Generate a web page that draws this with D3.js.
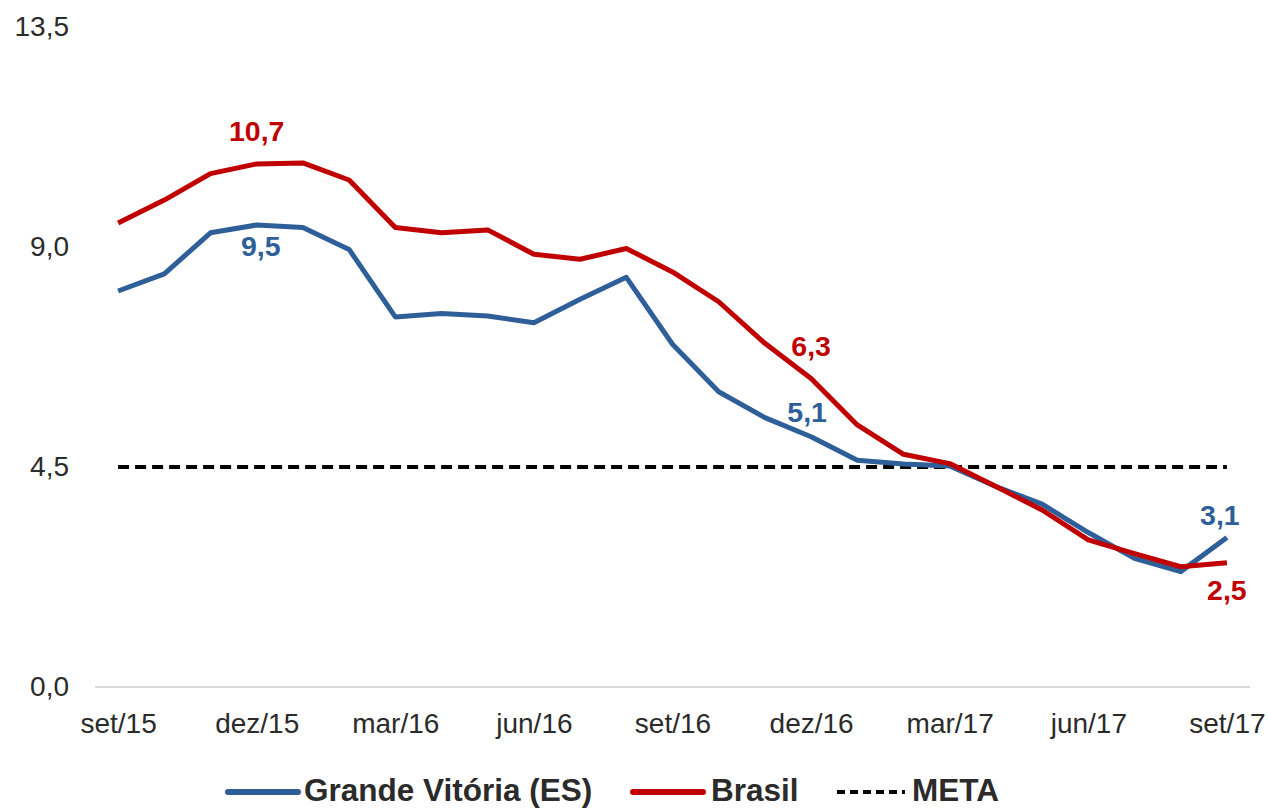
<!DOCTYPE html>
<html>
<head>
<meta charset="utf-8">
<script src="https://cdn.jsdelivr.net/npm/d3@7"></script>
<style>
  body { margin: 0; background: #fff; }
  svg { display: block; font-family: "Liberation Sans", Arial, sans-serif; }
</style>
</head>
<body>
<div id="chart"></div>
<script>
const months = ['set/15','out/15','nov/15','dez/15','jan/16','fev/16','mar/16','abr/16','mai/16','jun/16','jul/16','ago/16',
  'set/16','out/16','nov/16','dez/16','jan/17','fev/17','mar/17','abr/17','mai/17','jun/17','jul/17','ago/17','set/17'];
const tickMonths = ['set/15','dez/15','mar/16','jun/16','set/16','dez/16','mar/17','jun/17','set/17'];
const vitoria = [8.10, 8.45, 9.29, 9.45, 9.40, 8.95, 7.57, 7.64, 7.59, 7.45, 7.93, 8.38,
  7.01, 6.04, 5.51, 5.12, 4.64, 4.56, 4.52, 4.10, 3.74, 3.16, 2.63, 2.36, 3.06];
const brasil = [9.49, 9.96, 10.50, 10.70, 10.72, 10.37, 9.40, 9.29, 9.35, 8.85, 8.75, 8.97,
  8.49, 7.88, 7.03, 6.31, 5.36, 4.76, 4.57, 4.10, 3.62, 3.01, 2.73, 2.46, 2.54];
const meta = 4.5;
const yTicks = [0, 4.5, 9, 13.5];
// data labels: [series, month index, text]
const labels = [
  ['brasil', 3, '10,7'], ['vitoria', 3, '9,5'],
  ['brasil', 15, '6,3'], ['vitoria', 15, '5,1'],
  ['vitoria', 24, '3,1'], ['brasil', 24, '2,5']
];

const W = 1268, H = 808;
const blue = '#2f5f98', red = '#c00000', ink = '#2b2b2b';
const margin = { l: 95, r: 18, t: 27, b: 121 };

const svg = d3.select('#chart').append('svg')
  .attr('width', W)
  .attr('height', H);

const x = d3.scalePoint().domain(months).range([margin.l, W - margin.r]).padding(0.5);
const y = d3.scaleLinear().domain([0, 13.5]).range([H - margin.b, margin.t]);
const fmt = v => d3.format('.1f')(v).replace('.', ',');

// x axis
const axisX = svg.append('g')
  .attr('transform', `translate(0, ${y(0)})`)
  .call(d3.axisBottom(x).tickValues(tickMonths).tickSize(0).tickPadding(26));
axisX.select('.domain').attr('stroke', '#d9d9d9').attr('stroke-width', 2)
  .attr('d', `M${margin.l},0H${W - margin.r}`);
axisX.selectAll('text')
  .style('font-size', '28px')
  .style('font-family', '"Liberation Sans", Arial, sans-serif')
  .attr('fill', ink);

// y axis
const axisY = svg.append('g')
  .attr('transform', `translate(${margin.l}, 0)`)
  .call(d3.axisLeft(y).tickValues(yTicks).tickFormat(fmt).tickSize(0).tickPadding(26));
axisY.select('.domain').remove();
axisY.selectAll('text')
  .style('font-size', '28px')
  .style('font-family', '"Liberation Sans", Arial, sans-serif')
  .attr('fill', ink);

// meta line
svg.append('line')
  .attr('x1', x(months[0]))
  .attr('x2', x(months[months.length - 1]))
  .attr('y1', y(meta))
  .attr('y2', y(meta))
  .attr('stroke', '#000')
  .attr('stroke-width', 4)
  .attr('stroke-dasharray', '11,6');

const line = d3.line()
  .x((d, i) => x(months[i]))
  .y(d => y(d));

svg.append('path')
  .datum(vitoria)
  .attr('fill', 'none')
  .attr('stroke', blue)
  .attr('stroke-width', 5)
  .attr('stroke-linejoin', 'round')
  .attr('d', line);

svg.append('path')
  .datum(brasil)
  .attr('fill', 'none')
  .attr('stroke', red)
  .attr('stroke-width', 5)
  .attr('stroke-linejoin', 'round')
  .attr('d', line);

// data labels
const offsets = {
  '10,7': [0, -23], '9,5': [4, 31], '6,3': [0, -23],
  '5,1': [-4, -15], '3,1': [-7, -12], '2,5': [0, 37]
};
labels.forEach(([s, i, t]) => {
  const v = s === 'brasil' ? brasil[i] : vitoria[i];
  svg.append('text')
    .attr('x', x(months[i]) + offsets[t][0])
    .attr('y', y(v) + offsets[t][1])
    .attr('text-anchor', 'middle')
    .style('font-size', '28.5px')
    .style('font-weight', 'bold')
    .attr('fill', s === 'brasil' ? red : blue)
    .text(t);
});

// legend
const legend = [
  { name: 'Grande Vitória (ES)', color: blue, x: 228, tx: 304, dash: null },
  { name: 'Brasil', color: red, x: 633, tx: 711, dash: null },
  { name: 'META', color: '#000', x: 837, tx: 912, dash: '8,5,8,5,8,5,8,5,8,5,3,20' }
];
const ly = 792;
legend.forEach(d => {
  svg.append('line')
    .attr('x1', d.x).attr('x2', d.x + 70)
    .attr('y1', ly).attr('y2', ly)
    .attr('stroke', d.color)
    .attr('stroke-width', d.dash ? 4 : 6)
    .attr('stroke-linecap', d.dash ? 'butt' : 'round')
    .attr('stroke-dasharray', d.dash);
  svg.append('text')
    .attr('x', d.tx)
    .attr('y', 801)
    .style('font-size', '31.5px')
    .style('font-weight', 'bold')
    .attr('fill', ink)
    .text(d.name);
});
</script>
</body>
</html>
